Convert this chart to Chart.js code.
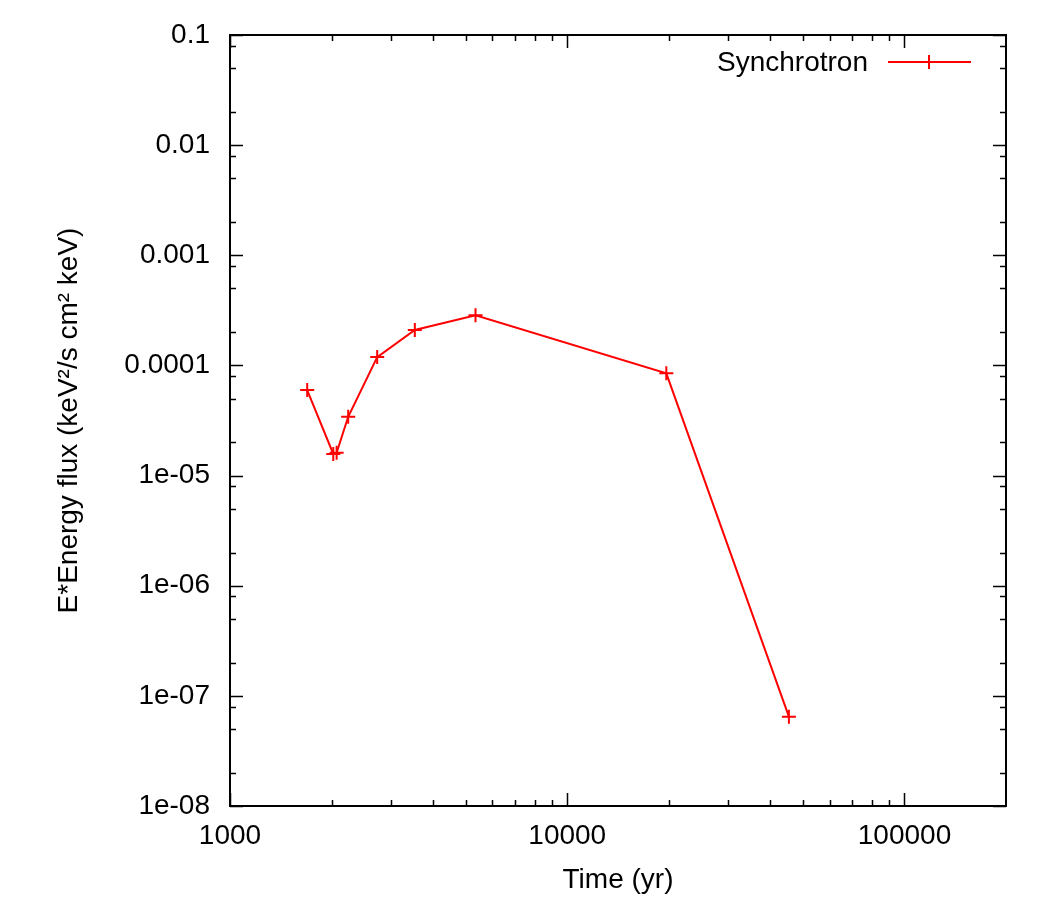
<!DOCTYPE html>
<html>
<head>
<meta charset="utf-8">
<script src="https://cdn.jsdelivr.net/npm/chart.js@4.4.1/dist/chart.umd.min.js"></script>
<style>
  body { margin: 0; background: #fff; }
  canvas { display: block; }
</style>
</head>
<body>
<canvas id="sed-chart" width="1050" height="900"></canvas>
<script>
// values
const times = [1694, 2024, 2071, 2241, 2732, 3532, 5346, 19670, 45420];
const fluxes = [5.98e-5, 1.57e-5, 1.61e-5, 3.42e-5, 1.19e-4, 2.10e-4, 2.85e-4, 8.48e-5, 6.47e-8];

const xTicks = [1000, 10000, 100000];
const xTickLabels = ['1000', '10000', '100000'];
const yTicks = [1e-8, 1e-7, 1e-6, 1e-5, 1e-4, 1e-3, 1e-2, 1e-1];
const yTickLabels = ['1e-08', '1e-07', '1e-06', '1e-05', '0.0001', '0.001', '0.01', '0.1'];
const xMinorSteps = [2, 3, 4, 5, 6, 7, 8, 9];
const yMinorSteps = [2, 5, 8];

const FONT = "'Liberation Sans', Arial, Helvetica, sans-serif";
const FONT_SIZE = 28;
const RED = '#ff0000';

// gnuplot-like frame with inward ticks on all four sides
const framePlugin = {
  id: 'frame',
  beforeDatasetsDraw(chart) {
    const { ctx, chartArea: a, scales: { x, y } } = chart;
    ctx.save();
    ctx.strokeStyle = '#000';
    ctx.lineWidth = 1.5;

    const minors = (ticks, steps, min, max) => {
      const out = [];
      ticks.forEach(t => steps.forEach(s => {
        const v = t * s;
        if (v > min && v < max) out.push(v);
      }));
      // decade below the first major tick
      steps.forEach(s => { const v = ticks[0] / 10 * s; if (v > min && v < max) out.push(v); });
      return out;
    };

    const xTick = (v, len) => {
      const px = Math.round(x.getPixelForValue(v)) + 0.5;
      ctx.beginPath();
      ctx.moveTo(px, a.bottom); ctx.lineTo(px, a.bottom - len);
      ctx.moveTo(px, a.top); ctx.lineTo(px, a.top + len);
      ctx.stroke();
    };
    const yTick = (v, len) => {
      const py = Math.round(y.getPixelForValue(v)) + 0.5;
      ctx.beginPath();
      ctx.moveTo(a.left, py); ctx.lineTo(a.left + len, py);
      ctx.moveTo(a.right, py); ctx.lineTo(a.right - len, py);
      ctx.stroke();
    };

    xTicks.forEach(v => xTick(v, 13));
    minors(xTicks, xMinorSteps, x.min, x.max).forEach(v => xTick(v, 6));
    yTicks.forEach(v => yTick(v, 13));
    minors(yTicks, yMinorSteps, y.min, y.max).forEach(v => yTick(v, 6));

    ctx.lineWidth = 2;
    ctx.strokeRect(a.left, a.top, a.right - a.left, a.bottom - a.top);
    ctx.restore();
  },
  afterDatasetsDraw(chart) {
    // key in the top right corner
    const { ctx } = chart;
    ctx.save();
    ctx.font = FONT_SIZE + 'px ' + FONT;
    ctx.fillStyle = '#000';
    ctx.textAlign = 'right';
    ctx.textBaseline = 'middle';
    ctx.fillText(chart.data.datasets[0].label, 868, 63);
    ctx.strokeStyle = RED;
    ctx.lineWidth = 2;
    ctx.beginPath();
    ctx.moveTo(888, 62); ctx.lineTo(971, 62);
    ctx.moveTo(929, 55); ctx.lineTo(929, 69);
    ctx.stroke();
    ctx.restore();
  }
};

new Chart(document.getElementById('sed-chart'), {
  type: 'scatter',
  data: {
    datasets: [{
      label: 'Synchrotron',
      data: times.map((t, i) => ({ x: t, y: fluxes[i] })),
      showLine: true,
      borderColor: RED,
      backgroundColor: RED,
      borderWidth: 2,
      pointStyle: 'cross',
      pointRadius: 7,
      pointBorderWidth: 2,
      pointHoverRadius: 7
    }]
  },
  options: {
    responsive: false,
    animation: false,
    layout: { padding: { top: 35, right: 44, left: 0, bottom: 0 } },
    plugins: { legend: { display: false }, tooltip: { enabled: false } },
    scales: {
      x: {
        type: 'logarithmic',
        position: 'bottom',
        min: 1000,
        max: 200000,
        afterBuildTicks: s => { s.ticks = xTicks.map(v => ({ value: v })); },
        afterFit: s => { s.height = 94; s.paddingLeft = 0; s.paddingRight = 0; },
        grid: { display: false, drawTicks: false },
        border: { display: false },
        ticks: {
          padding: 13,
          color: '#000',
          font: { family: FONT, size: FONT_SIZE },
          maxRotation: 0,
          callback: v => xTickLabels[xTicks.indexOf(v)] ?? ''
        },
        title: {
          display: true,
          text: 'Time (yr)',
          color: '#000',
          font: { family: FONT, size: FONT_SIZE },
          padding: { top: 0, bottom: 3 }
        }
      },
      y: {
        type: 'logarithmic',
        position: 'left',
        min: 1e-8,
        max: 0.1,
        afterBuildTicks: s => { s.ticks = yTicks.map(v => ({ value: v })); },
        afterFit: s => { s.width = 230; s.paddingTop = 0; s.paddingBottom = 0; },
        grid: { display: false, drawTicks: false },
        border: { display: false },
        ticks: {
          padding: 20,
          color: '#000',
          font: { family: FONT, size: FONT_SIZE },
          callback: v => {
            const i = yTicks.findIndex(t => Math.abs(t - v) / t < 1e-6);
            return i >= 0 ? yTickLabels[i] : '';
          }
        },
        title: {
          display: true,
          text: 'E*Energy flux (keV\u00b2/s cm\u00b2 keV)',
          color: '#000',
          font: { family: FONT, size: FONT_SIZE },
          padding: { top: 52, bottom: 0 }
        }
      }
    }
  },
  plugins: [framePlugin]
});
</script>
</body>
</html>
